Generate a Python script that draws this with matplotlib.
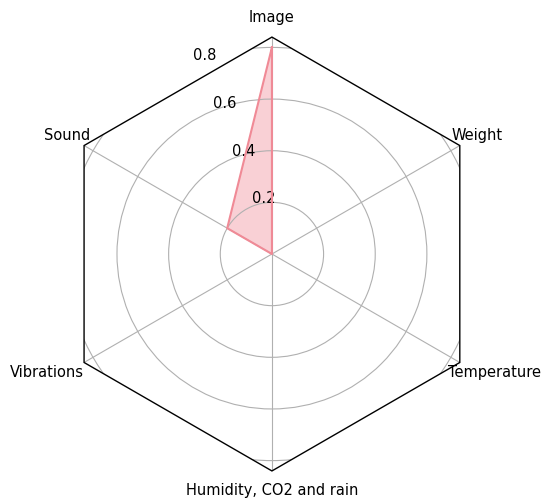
import numpy as np
import matplotlib
matplotlib.use("Agg")
import matplotlib.pyplot as plt
from matplotlib.patches import RegularPolygon
from matplotlib.path import Path
from matplotlib.projections import register_projection
from matplotlib.projections.polar import PolarAxes
from matplotlib.spines import Spine
from matplotlib.transforms import Affine2D, ScaledTranslation

categories = ['Image', 'Sound', 'Vibrations', 'Humidity, CO2 and rain',
              'Temperature', 'Weight']
values = [0.8, 0.2, 0.0, 0.0, 0.0, 0.0]
rticks = [0.2, 0.4, 0.6, 0.8]
rtick_labels = ['0.2', '0.4', '0.6', '0.8']

N = len(categories)
theta = np.linspace(0, 2 * np.pi, N, endpoint=False)


class RadarAxes(PolarAxes):
    name = 'radar_hex'

    def __init__(self, *args, **kwargs):
        super().__init__(*args, **kwargs)
        self.set_theta_zero_location('N')

    def _gen_axes_patch(self):
        return RegularPolygon((0.5, 0.5), N, radius=.5, edgecolor="k")

    def _gen_axes_spines(self):
        spine = Spine(axes=self, spine_type='circle',
                      path=Path.unit_regular_polygon(N))
        spine.set_transform(Affine2D().scale(.5).translate(.5, .5)
                            + self.transAxes)
        return {'polar': spine}


register_projection(RadarAxes)

fig = plt.figure(figsize=(5.43, 5.04), dpi=100)
ax = fig.add_axes([0.1013, 0.0655, 0.799, 0.861], projection='radar_hex')

tt = np.concatenate([theta, theta[:1]])
vv = np.concatenate([values, values[:1]])
col = '#f08a96'
ax.plot(tt, vv, color=col, lw=1.5)
ax.fill(tt, vv, color=col, alpha=0.4, lw=0)

ax.set_rgrids(rticks, rtick_labels, fontsize=10.5)
ax.set_thetagrids(np.degrees(theta), categories, fontsize=10.5)
ax.set_ylim(0, 0.84)
ax.spines['polar'].set_edgecolor('black')
ax.spines['polar'].set_linewidth(1.0)

# extra horizontal offset (in points) of the lower side labels
shifts = {'Vibrations': -15, 'Temperature': 13}
for lbl in ax.get_xticklabels():
    dx = shifts.get(lbl.get_text(), 0)
    if dx:
        lbl.set_transform(lbl.get_transform()
                          + ScaledTranslation(dx / 72, 0, fig.dpi_scale_trans))

fig.savefig('out.png', dpi=100)
